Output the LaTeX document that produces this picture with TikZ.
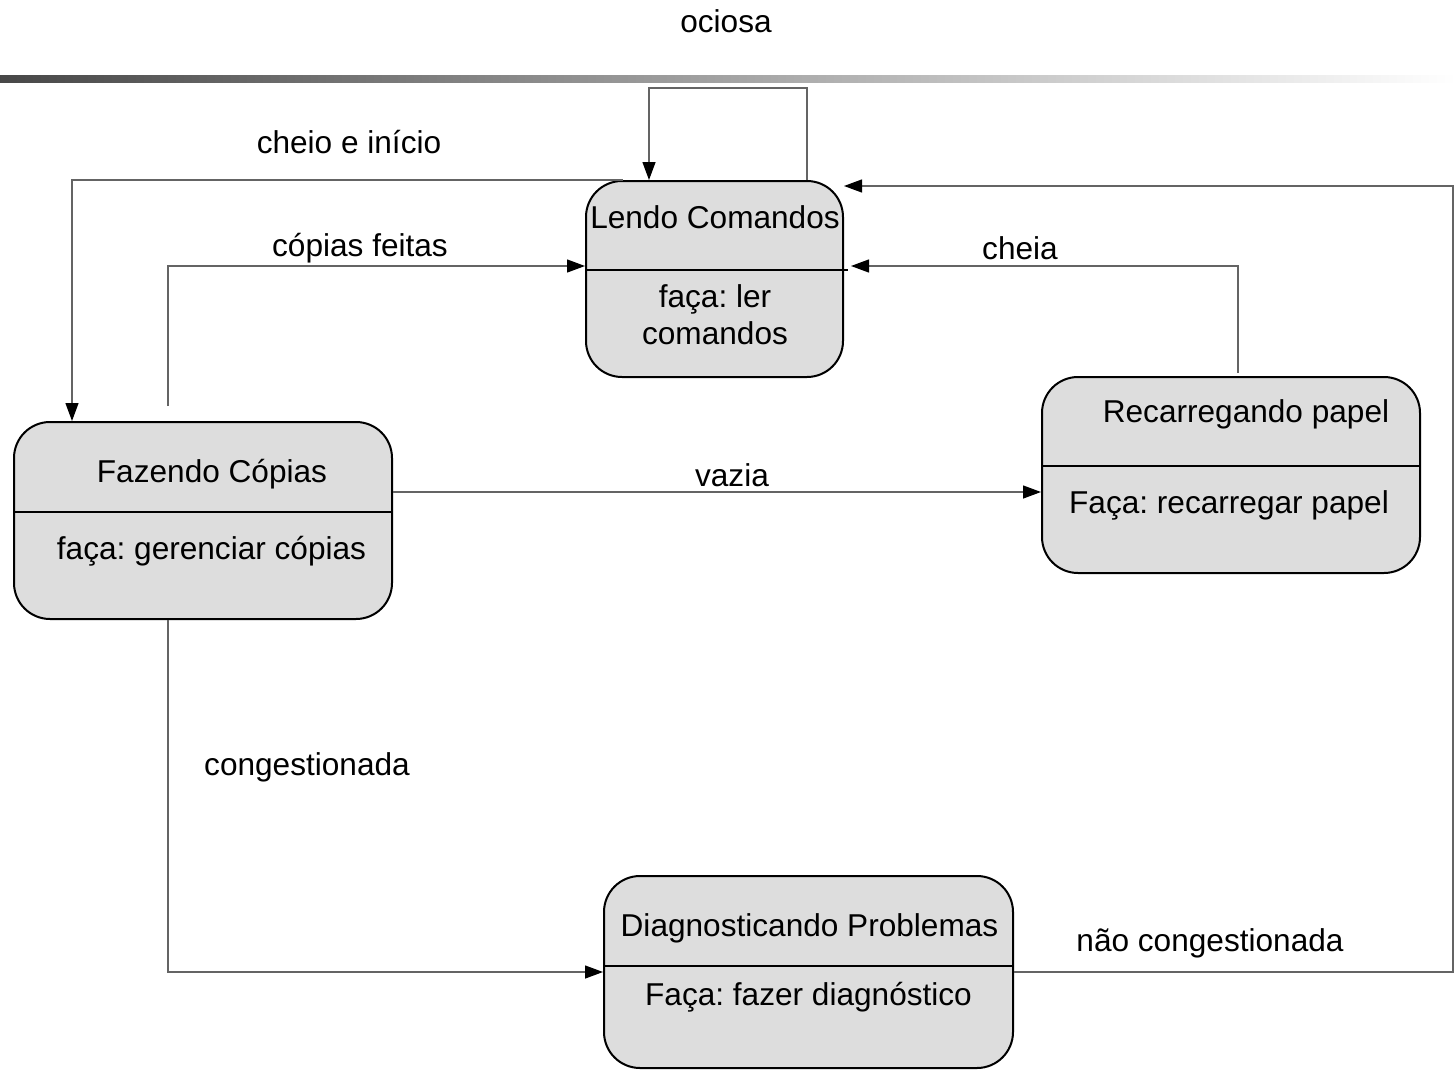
\documentclass[tikz,border=0pt]{standalone}
\usepackage{fontspec}
\setmainfont{Liberation Sans}
\usepackage{tikz}
\usetikzlibrary{arrows.meta,calc,positioning}
\definecolor{fundo}{RGB}{221,221,221}
\definecolor{linha}{RGB}{100,100,100}
\frenchspacing

\begin{document}
\begin{tikzpicture}[x=1pt,y=-1pt,
    font=\fontsize{31.6}{37}\selectfont,
    estado/.style={draw=black,line width=2pt,fill=fundo,rounded corners=36pt,inner sep=0pt},
    divisor/.style={draw=black,line width=2pt},
    seta/.style={draw=linha,line width=1.3pt,-{Triangle[length=18pt,width=13pt,color=black]}},
    rotulo/.style={inner sep=0pt}]
								\useasboundingbox (0,0) rectangle (1456,1070);
								\shade[left color=black!72,right color=white] (0,76) rectangle (1456,83);

								% estados
								\node[estado,minimum width=257pt,minimum height=196pt] (lendo) at (714.5,279) {};
								\node[estado,minimum width=378pt,minimum height=197pt] (fazendo) at (203,520.5) {};
								\node[estado,minimum width=378pt,minimum height=196pt] (recarga) at (1231,475) {};
								\node[estado,minimum width=409pt,minimum height=192pt] (diag) at (808.5,972) {};

								\draw[divisor] ([xshift=2pt,yshift=-90pt]lendo.north west) -- ([xshift=4pt,yshift=-90pt]lendo.north east);
								\draw[divisor] ([yshift=-91pt]fazendo.north west) -- ([yshift=-91pt]fazendo.north east);
								\draw[divisor] ([yshift=-90pt]recarga.north west) -- ([yshift=-90pt]recarga.north east);
								\draw[divisor] ([yshift=-91pt]diag.north west) -- ([yshift=-91pt]diag.north east);

								\node[rotulo] (lendoT) at (715,217) {Lendo Comandos};
								\node[rotulo,align=center] (lendoB) at (715,314.5) {faça: ler\\comandos};
								\node[rotulo] (fazendoT) at (212,474) {Fazendo Cópias};
								\node[rotulo] (fazendoB) at (211.5,551) {faça: gerenciar cópias};
								\node[rotulo] (recargaT) at (1246,414) {Recarregando papel};
								\node[rotulo] (recargaB) at (1229,505) {Faça: recarregar papel};
								\node[rotulo] (diagT) at (809.5,928) {Diagnosticando Problemas};
								\node[rotulo] (diagB) at (808.5,997) {Faça: fazer diagnóstico};

								% transicoes
								\draw[seta] ([xshift=92.5pt]lendo.north) -- ++(0,-92) -| ([xshift=-65.5pt]lendo.north);
								\node[rotulo] (ociosa) at (726,21) {ociosa};

								\draw[seta] ([xshift=-92pt]lendo.north) -| ([xshift=-131pt]fazendo.north);
								\node[rotulo] (cheioinicio) at (349,142) {cheio e início};

								\draw[seta] ([xshift=-35pt,yshift=15pt]fazendo.north) |- ([yshift=13pt]lendo.west);
								\node[rotulo] (copiasfeitas) at (360,248) {cópias feitas};

								\draw[seta] ([xshift=7pt,yshift=3pt]recarga.north) |- ([xshift=7pt,yshift=13pt]lendo.east);
								\node[rotulo] (cheia) at (1020,248) {cheia};

								\draw[seta] ([yshift=28.5pt]fazendo.east) -- ([yshift=28.5pt]fazendo.east -| recarga.west);
								\node[rotulo] (vazia) at (732,475) {vazia};

								\draw[seta] ([xshift=-35pt]fazendo.south) |- (diag.west);
								\node[rotulo] (congest) at (307,767) {congestionada};

								\draw[seta] (diag.east) -- ++(439,0) |- ([yshift=-6pt]lendo.north east);
								\node[rotulo] (naocongest) at (1210,943) {não congestionada};
							\end{tikzpicture}
\end{document}
